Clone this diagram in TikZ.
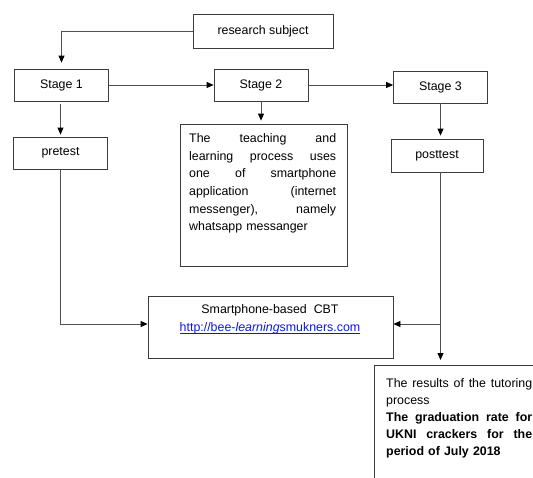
\documentclass[tikz,border=0pt]{standalone}
\usepackage{fontspec}
\setmainfont{Liberation Sans}
\usetikzlibrary{arrows.meta}
\definecolor{linkblue}{RGB}{20,20,230}
\definecolor{boxline}{RGB}{60,60,60}
\definecolor{connline}{RGB}{80,80,80}
\newcommand{\jline}[2]{\leavevmode\hbox to #1{#2}}
\newcommand{\myul}[1]{\leavevmode\setbox0=\hbox{#1}\rlap{\rule[-1.6pt]{\wd0}{0.6pt}}\box0}
\begin{document}
\begin{tikzpicture}[x=1pt,y=-1pt,
  box/.style={draw=boxline, line width=0.8pt, inner sep=0pt, minimum height=32pt, minimum width=94pt, font=\fontsize{12.4}{14}\selectfont},
  txt/.style={inner sep=0pt, font=\fontsize{12.4}{17.6}\selectfont},
  conn/.style={draw=connline, line width=0.8pt},
  arr/.style={conn, -{Triangle[length=7pt,width=6pt,color=black]}}]
\clip (0,0) rectangle (533,477);
\fill[white] (0,0) rectangle (533,477);
% boxes
\node[box, minimum width=140pt, minimum height=34pt] (rs) at (263,31) {research subject};
\node[box] (s1) at (61.5,85) {Stage 1};
\node[box] (s2) at (261,85) {Stage 2};
\node[box] (s3) at (440.5,87) {Stage 3};
\node[box] (pre) at (60.5,153) {pretest};
\node[box, minimum width=92pt, minimum height=33pt] (post) at (437,155.5) {posttest};
\node[box, minimum width=167pt, minimum height=142pt] (tb) at (263.5,195) {};
\node[txt, anchor=north west, text width=147pt, align=left, font=\fontsize{12.4}{17.6}\selectfont] (tbt) at (189,133.5)
 {\jline{147pt}{The\hfill teaching\hfill and}\\
  \jline{147pt}{learning\hfill process\hfill uses}\\
  \jline{147pt}{one\hfill of\hfill smartphone}\\
  \jline{147pt}{application\hfill (internet}\\
  \jline{147pt}{messenger),\hfill namely}\\
  whatsapp messanger};
\node[box, minimum width=245pt, minimum height=62pt] (cbt) at (270.5,327) {};
\node[txt, anchor=north, align=center, font=\fontsize{12.4}{18}\selectfont] (cbtt) at (270,304.5)
 {Smartphone-based\ \ CBT\\
  \textcolor{linkblue}{\myul{http://bee-\textit{learning}smukners.com}}};
\node[box, anchor=north west, minimum width=240pt, minimum height=200pt] (res) at (374,365) {};
\node[txt, anchor=north west, text width=146pt, align=left, font=\fontsize{12.4}{17.2}\selectfont] (rest) at (386,378)
 {\jline{146pt}{The\hfill results\hfill of\hfill the\hfill tutoring}\\
  process\\
  \jline{146pt}{\bfseries The\hfill graduation\hfill rate\hfill for}\\
  \jline{146pt}{\bfseries UKNI\hfill crackers\hfill for\hfill the}\\
  \textbf{period of July 2018}};
% connectors
\draw[arr, shorten >=6pt] (rs.west) -| (s1.north);
\draw[arr] (s1.east) -- (s2.west);
\draw[arr] (s2.east) -- (s2.east -| s3.west);
\draw[arr, shorten >=3pt] (s2.south) -- (s2.south |- tb.north);
\draw[arr, shorten <=3pt, shorten >=2pt] (s1.south -| pre.north) -- (pre.north);
\draw[arr, shorten >=3pt] (s3.south) -- (s3.south |- post.north);
\draw[arr] (pre.south) |- ([yshift=3pt]cbt.west);
\draw[arr, shorten >=5pt] (post.south -| s3.south) -- (s3.south |- res.north);
\draw[arr] ([yshift=3pt]cbt.east -| s3.south) -- ([yshift=3pt]cbt.east);
\end{tikzpicture}
\end{document}
